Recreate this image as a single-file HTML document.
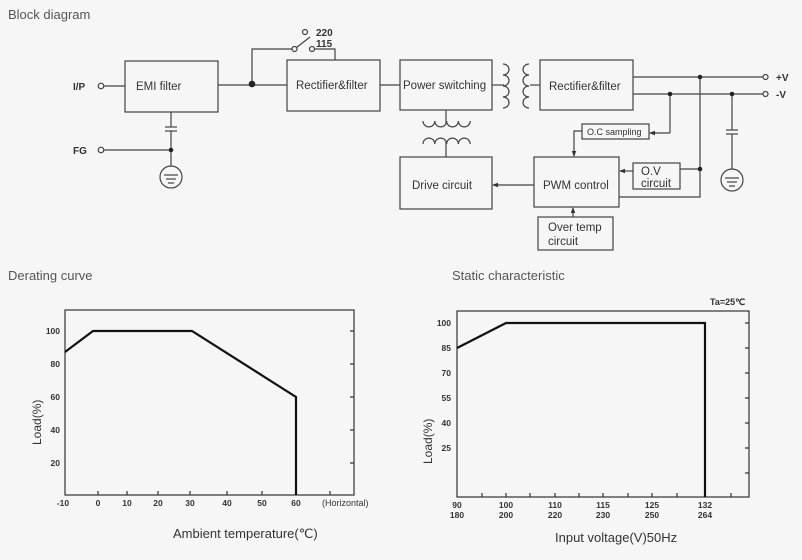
<!DOCTYPE html>
<html><head><meta charset="utf-8"><style>
html,body{margin:0;padding:0;background:#f6f6f6;}
svg{display:block;}
text{font-family:"Liberation Sans",sans-serif;fill:#333;}
</style></head><body>
<svg width="802" height="560" viewBox="0 0 802 560" xmlns="http://www.w3.org/2000/svg">
<defs>
<marker id="ar" markerWidth="6" markerHeight="6" refX="5" refY="3" orient="auto" markerUnits="userSpaceOnUse"><path d="M0,0.8 L6,3 L0,5.2z" fill="#333"/></marker>
</defs>
<g fill="none" stroke="#444" stroke-width="1.2">
<rect x="125" y="61" width="93" height="51"/>
<rect x="287" y="60" width="93" height="51"/>
<rect x="400" y="60" width="92" height="50"/>
<rect x="540" y="60" width="93" height="50"/>
<rect x="400" y="157" width="92" height="52"/>
<rect x="534" y="157" width="85" height="50"/>
<rect x="633" y="163" width="47" height="26"/>
<rect x="582" y="124" width="67" height="15"/>
<rect x="538" y="217" width="75" height="33"/>
<circle cx="101" cy="86" r="2.8" fill="#f6f6f6"/>
<line x1="104" y1="86" x2="125" y2="86"/>
<circle cx="101" cy="150" r="2.8" fill="#f6f6f6"/>
<line x1="104" y1="150" x2="171" y2="150"/>
<line x1="171" y1="112" x2="171" y2="127"/>
<line x1="165" y1="127" x2="177" y2="127"/>
<line x1="165" y1="131" x2="177" y2="131"/>
<line x1="171" y1="131" x2="171" y2="166"/>
<circle cx="171" cy="177" r="11"/>
<line x1="164" y1="175" x2="178" y2="175"/>
<line x1="166" y1="179" x2="176" y2="179"/>
<line x1="168" y1="183" x2="174" y2="183"/>
<line x1="218" y1="85" x2="287" y2="85"/>
<polyline points="252,85 252,49 292,49"/>
<circle cx="294.5" cy="49" r="2.5" fill="#f6f6f6"/>
<circle cx="305" cy="32" r="2.5" fill="#f6f6f6"/>
<line x1="296.5" y1="47.5" x2="310" y2="37"/>
<circle cx="312" cy="49" r="2.5" fill="#f6f6f6"/>
<polyline points="314.5,49 335,49 335,60"/>
<line x1="380" y1="85" x2="400" y2="85"/>
<line x1="492" y1="85" x2="504" y2="85"/>
<line x1="530" y1="85" x2="540" y2="85"/>
<path d="M503,64 a6,5.5 0 0 1 0,11 a6,5.5 0 0 1 0,11 a6,5.5 0 0 1 0,11 a6,5.5 0 0 1 0,11"/>
<path d="M529,64 a6,5.5 0 0 0 0,11 a6,5.5 0 0 0 0,11 a6,5.5 0 0 0 0,11 a6,5.5 0 0 0 0,11"/>
<line x1="446" y1="110" x2="446" y2="124"/>
<line x1="446" y1="141" x2="446" y2="157"/>
<path d="M423,121 a5.9,5.9 0 0 0 11.8,0 a5.9,5.9 0 0 0 11.8,0 a5.9,5.9 0 0 0 11.8,0 a5.9,5.9 0 0 0 11.8,0"/>
<path d="M423,144 a5.9,5.9 0 0 1 11.8,0 a5.9,5.9 0 0 1 11.8,0 a5.9,5.9 0 0 1 11.8,0 a5.9,5.9 0 0 1 11.8,0"/>
<line x1="633" y1="77" x2="763" y2="77"/>
<line x1="633" y1="94" x2="763" y2="94"/>
<circle cx="765.5" cy="77" r="2.5" fill="#f6f6f6"/>
<circle cx="765.5" cy="94" r="2.5" fill="#f6f6f6"/>
<polyline points="700,77 700,197 619,197"/>
<line x1="700" y1="169" x2="680" y2="169"/>
<line x1="633" y1="171" x2="620" y2="171" marker-end="url(#ar)"/>
<line x1="670" y1="94" x2="670" y2="133"/>
<line x1="670" y1="133" x2="650" y2="133" marker-end="url(#ar)"/>
<polyline points="582,131 574,131 574,156" marker-end="url(#ar)"/>
<line x1="534" y1="185" x2="493" y2="185" marker-end="url(#ar)"/>
<line x1="573" y1="217" x2="573" y2="208" marker-end="url(#ar)"/>
<line x1="732" y1="94" x2="732" y2="130"/>
<line x1="726" y1="130" x2="738" y2="130"/>
<line x1="726" y1="134" x2="738" y2="134"/>
<line x1="732" y1="134" x2="732" y2="169"/>
<circle cx="732" cy="180" r="11"/>
<line x1="725" y1="178" x2="739" y2="178"/>
<line x1="727" y1="182" x2="737" y2="182"/>
<line x1="729" y1="186" x2="735" y2="186"/>
</g>
<g fill="#222">
<circle cx="171" cy="150" r="2.3"/>
<circle cx="252" cy="84" r="3.3"/>
<circle cx="700" cy="77" r="2.3"/>
<circle cx="670" cy="94" r="2.3"/>
<circle cx="732" cy="94" r="2.3"/>
<circle cx="700" cy="169" r="2.3"/>
</g>
<g font-size="11.5">
<text x="73" y="90" font-weight="bold" font-size="10">I/P</text>
<text x="73" y="154" font-weight="bold" font-size="10">FG</text>
<text x="136" y="90">EMI filter</text>
<text x="296" y="89">Rectifier&amp;filter</text>
<text x="403" y="89">Power switching</text>
<text x="549" y="90">Rectifier&amp;filter</text>
<text x="412" y="189">Drive circuit</text>
<text x="543" y="189">PWM control</text>
<text x="641" y="175">O.V</text>
<text x="641" y="187">circuit</text>
<text x="587" y="135" font-size="9">O.C sampling</text>
<text x="548" y="231">Over temp</text>
<text x="548" y="245">circuit</text>
<text x="316" y="36" font-size="10" font-weight="bold">220</text>
<text x="316" y="47" font-size="10" font-weight="bold">115</text>
<text x="776" y="81" font-size="10" font-weight="bold">+V</text>
<text x="776" y="98" font-size="10" font-weight="bold">-V</text>
</g>
<g font-size="13">
<text x="8" y="19" style="fill:#555">Block diagram</text>
<text x="8" y="280" style="fill:#555">Derating curve</text>
<text x="452" y="280" style="fill:#555">Static characteristic</text>
</g>
<g fill="none" stroke="#333" stroke-width="1.2">
<rect x="65" y="310" width="289" height="185"/>
<path d="M354,331h-4M354,364h-4M354,397h-4M354,430h-4M354,463h-4"/>
<path d="M98,495v-4M127,495v-4M158,495v-4M190,495v-4M227,495v-4M262,495v-4M296,495v-4M330,495v-4"/>
<polyline points="65,352 93,331 192,331 296,397 296,495" stroke-width="2.2" stroke="#111"/>
</g>
<g font-size="8.5" font-weight="bold" text-anchor="end">
<text x="60" y="334">100</text><text x="60" y="367">80</text><text x="60" y="400">60</text><text x="60" y="433">40</text><text x="60" y="466">20</text>
</g>
<g font-size="8.5" font-weight="bold" text-anchor="middle">
<text x="63" y="506">-10</text><text x="98" y="506">0</text><text x="127" y="506">10</text><text x="158" y="506">20</text><text x="190" y="506">30</text><text x="227" y="506">40</text><text x="262" y="506">50</text><text x="296" y="506">60</text>
</g>
<text x="322" y="506" font-size="9">(Horizontal)</text>
<text x="173" y="538" font-size="13">Ambient temperature(℃)</text>
<text transform="translate(41,445) rotate(-90)" font-size="12">Load(%)</text>
<g fill="none" stroke="#333" stroke-width="1.2">
<rect x="457" y="311" width="292" height="186"/>
<path d="M749,323h-4M749,348h-4M749,373h-4M749,398h-4M749,423h-4M749,448h-4M749,473h-4"/>
<path d="M482,497v-4M506,497v-4M530,497v-4M555,497v-4M579,497v-4M603,497v-4M628,497v-4M652,497v-4M677,497v-4M705,497v-4M731,497v-4"/>
<polyline points="457,348 506,323 705,323 705,497" stroke-width="2.2" stroke="#111"/>
</g>
<g font-size="8.5" font-weight="bold" text-anchor="end">
<text x="451" y="326">100</text><text x="451" y="351">85</text><text x="451" y="376">70</text><text x="451" y="401">55</text><text x="451" y="426">40</text><text x="451" y="451">25</text>
</g>
<g font-size="8.5" font-weight="bold" text-anchor="middle">
<text x="457" y="508">90</text><text x="457" y="518">180</text>
<text x="506" y="508">100</text><text x="506" y="518">200</text>
<text x="555" y="508">110</text><text x="555" y="518">220</text>
<text x="603" y="508">115</text><text x="603" y="518">230</text>
<text x="652" y="508">125</text><text x="652" y="518">250</text>
<text x="705" y="508">132</text><text x="705" y="518">264</text>
</g>
<text x="710" y="305" font-size="9" font-weight="bold">Ta=25℃</text>
<text x="555" y="542" font-size="13">Input voltage(V)50Hz</text>
<text transform="translate(432,464) rotate(-90)" font-size="12">Load(%)</text>
</svg>
</body></html>
